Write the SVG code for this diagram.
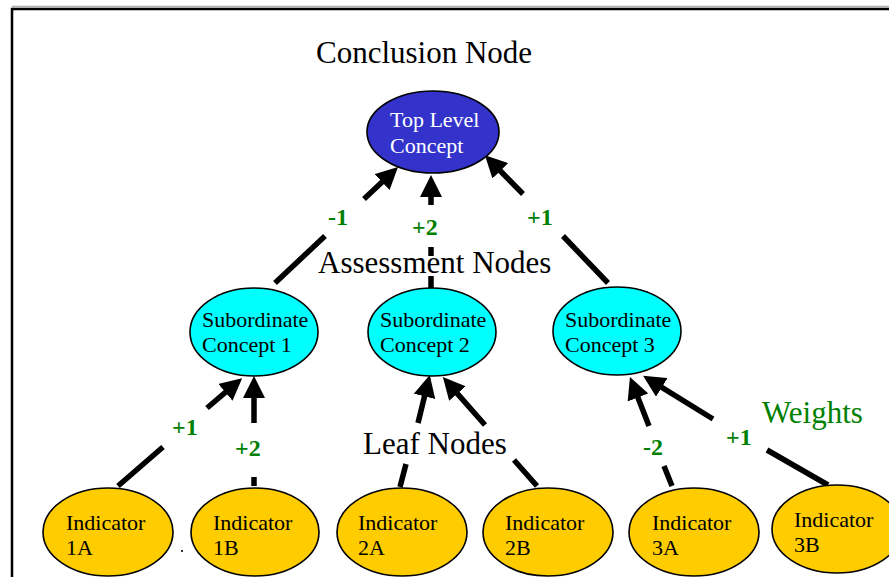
<svg xmlns="http://www.w3.org/2000/svg" width="889" height="577" viewBox="0 0 889 577">
<style>
.lbl{font-family:"Liberation Serif","Times New Roman",serif;font-size:31px;fill:#000}
.nt{font-family:"Liberation Serif","Times New Roman",serif;font-size:22px;fill:#000}
.wt{font-family:"Liberation Serif","Times New Roman",serif;font-size:24px;font-weight:bold;fill:#008000}
.node{stroke:#000;stroke-width:1.6}
.leaf{fill:#FFCC00}
.sub{fill:#00FFFF}
.conn path{fill:none;stroke:#000;stroke-width:5.5;marker-end:url(#ah)}
</style>
<defs>
<marker id="ah" markerUnits="userSpaceOnUse" markerWidth="22" markerHeight="22" refX="10" refY="11" orient="auto">
<path d="M0,0 L22,11 L0,22 z" fill="#000"/>
</marker>
</defs>
<rect width="889" height="577" fill="#fff"/>
<line x1="12" y1="6.5" x2="889" y2="6.5" stroke="#b0b0b0" stroke-width="1.5"/>
<rect x="12" y="9" width="900" height="600" fill="none" stroke="#000" stroke-width="2.5"/>

<text class="lbl" x="316" y="63">Conclusion Node</text>

<g class="conn" id="connectors">
<path d="M275,283 L325,236 M364,199 L389.3,175.2"/>
<path d="M431,289 L431,276 M431,256 L431,247 M431,205 L431,187"/>
<path d="M608,283 L563,236 M523,194 L493.3,163.7"/>
<path d="M118,486 L163,447 M207,408 L233,385.9"/>
<path d="M254,486 L254,477 M254,423 L254,388"/>
<path d="M400,487 L406,464 M418,423 L426.9,386.6"/>
<path d="M537,486 L514,460 M485,425 L450.8,386.1"/>
<path d="M672,486 L664,466 M649,426 L634.3,388.2"/>
<path d="M828,485 L767,450 M713,419 L653.3,382.1"/>
</g>

<g id="top">
<ellipse class="node" cx="433" cy="132" rx="66" ry="41" fill="#3333CC"/>
<text class="nt" x="390" y="127" style="fill:#fff">Top Level</text>
<text class="nt" x="390" y="153" style="fill:#fff">Concept</text>
</g>

<text class="lbl" x="318" y="273">Assessment Nodes</text>

<g id="sub1">
<ellipse class="node sub" cx="254" cy="332" rx="64" ry="44"/>
<text class="nt" x="202" y="327">Subordinate</text>
<text class="nt" x="202" y="352">Concept 1</text>
</g>
<g id="sub2">
<ellipse class="node sub" cx="432" cy="332" rx="64" ry="44"/>
<text class="nt" x="380" y="327">Subordinate</text>
<text class="nt" x="380" y="352">Concept 2</text>
</g>
<g id="sub3">
<ellipse class="node sub" cx="617" cy="331" rx="64" ry="44"/>
<text class="nt" x="565" y="327">Subordinate</text>
<text class="nt" x="565" y="352">Concept 3</text>
</g>

<text class="lbl" x="363" y="454">Leaf Nodes</text>
<text class="lbl" x="762" y="423" style="fill:#008000">Weights</text>

<g id="weights">
<text class="wt" x="328" y="225">-1</text>
<text class="wt" x="412" y="235">+2</text>
<text class="wt" x="527" y="225">+1</text>
<text class="wt" x="172" y="435">+1</text>
<text class="wt" x="235" y="456">+2</text>
<text class="wt" x="643" y="455">-2</text>
<text class="wt" x="726" y="445">+1</text>
</g>

<g id="ind1a">
<ellipse class="node leaf" cx="108" cy="532" rx="65" ry="44"/>
<text class="nt" x="66" y="530">Indicator</text>
<text class="nt" x="66" y="555">1A</text>
</g>
<g id="ind1b">
<ellipse class="node leaf" cx="255" cy="532" rx="64" ry="44"/>
<text class="nt" x="213" y="530">Indicator</text>
<text class="nt" x="213" y="555">1B</text>
</g>
<g id="ind2a">
<ellipse class="node leaf" cx="402" cy="532" rx="65" ry="44"/>
<text class="nt" x="358" y="530">Indicator</text>
<text class="nt" x="358" y="555">2A</text>
</g>
<g id="ind2b">
<ellipse class="node leaf" cx="548" cy="532" rx="65" ry="44"/>
<text class="nt" x="505" y="530">Indicator</text>
<text class="nt" x="505" y="555">2B</text>
</g>
<g id="ind3a">
<ellipse class="node leaf" cx="694" cy="532" rx="65" ry="44"/>
<text class="nt" x="652" y="530">Indicator</text>
<text class="nt" x="652" y="555">3A</text>
</g>
<g id="ind3b">
<ellipse class="node leaf" cx="837" cy="529" rx="65" ry="44"/>
<text class="nt" x="794" y="527">Indicator</text>
<text class="nt" x="794" y="552">3B</text>
</g>
<rect x="181" y="550" width="2" height="2" fill="#333"/>
</svg>
